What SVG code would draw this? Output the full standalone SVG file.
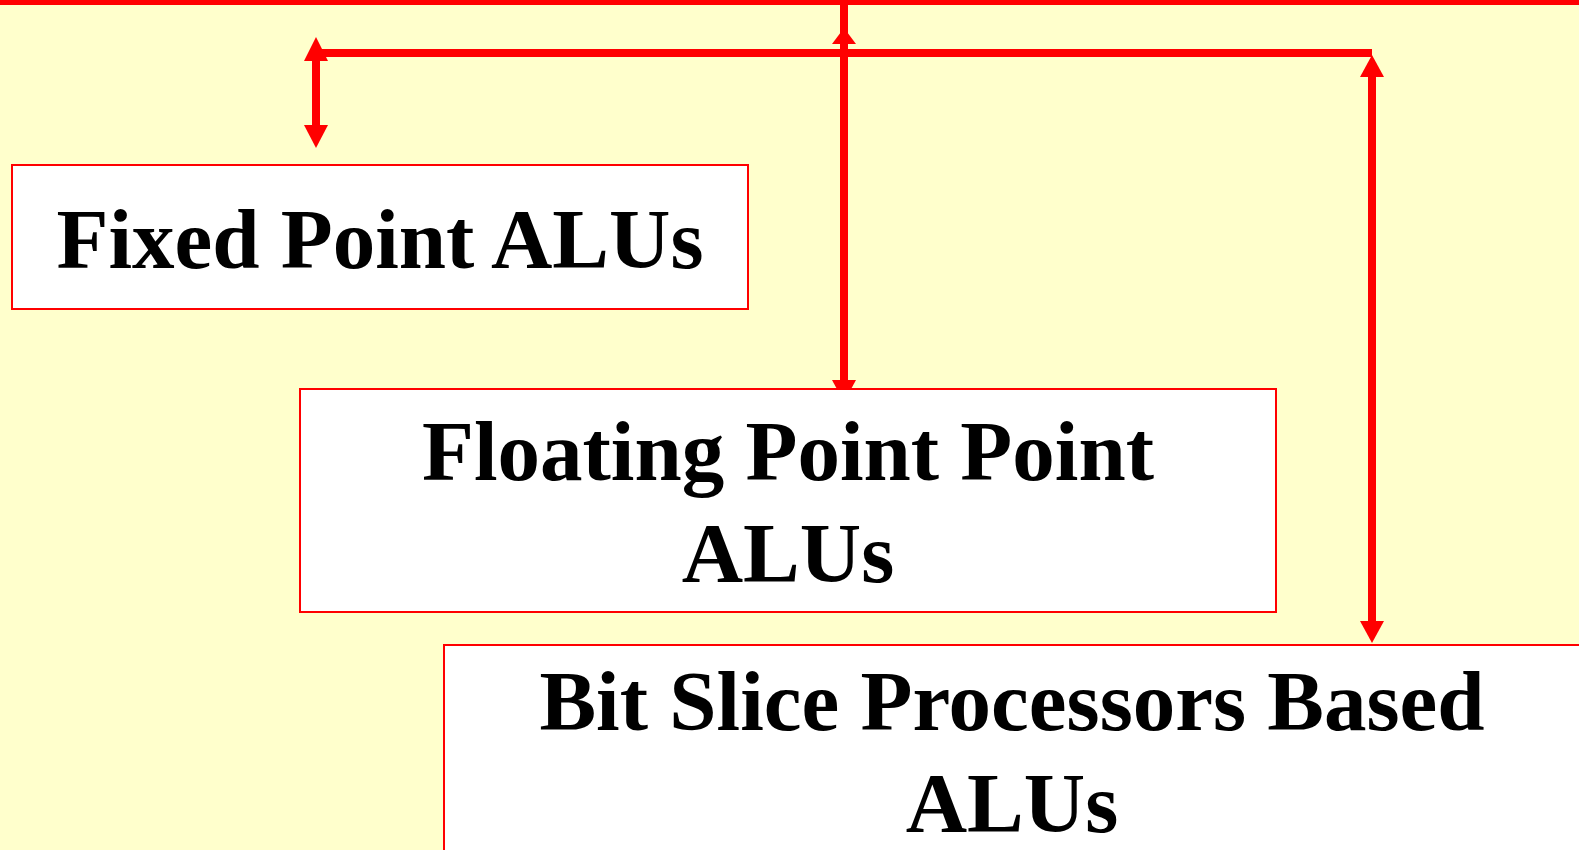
<svg xmlns="http://www.w3.org/2000/svg" width="1579" height="850" viewBox="0 0 1579 850">
<style>
.bg{fill:#FFFFCC}
.box{fill:#FFFFFF;stroke:#FF0000;stroke-width:2}
.ln{stroke:#FF0000;stroke-width:8;fill:none}
.ah{fill:#FF0000}
.t{font-family:"Liberation Serif","Times New Roman",serif;font-weight:bold;font-size:85px;fill:#000;text-anchor:middle}
</style>
<rect class="bg" x="0" y="0" width="1579" height="850"/>
<g id="connectors">
<rect x="0" y="0" width="1579" height="5" fill="#FF0000"/>
<line class="ln" x1="844" y1="0" x2="844" y2="385"/>
<polygon class="ah" points="844,28 832,44 856,44"/>
<polygon class="ah" points="832,380 856,380 844,402"/>
<line class="ln" x1="316" y1="53" x2="1372" y2="53"/>
<line class="ln" x1="316" y1="55" x2="316" y2="130"/>
<polygon class="ah" points="316,37 304,61 328,61"/>
<polygon class="ah" points="304,125 328,125 316,148"/>
<line class="ln" x1="1372" y1="70" x2="1372" y2="625"/>
<polygon class="ah" points="1372,55 1360,77 1384,77"/>
<polygon class="ah" points="1360,621 1384,621 1372,643"/>
</g>
<g id="node-fixed">
<rect class="box" x="12" y="165" width="736" height="144"/>
<text class="t" x="380" y="268">Fixed Point ALUs</text>
</g>
<g id="node-floating">
<rect class="box" x="300" y="389" width="976" height="223"/>
<text class="t" x="788" y="480">Floating Point Point</text>
<text class="t" x="788" y="582">ALUs</text>
</g>
<g id="node-bitslice">
<rect class="box" x="444" y="645" width="1145" height="215"/>
<text class="t" x="1012" y="730">Bit Slice Processors Based</text>
<text class="t" x="1012" y="832">ALUs</text>
</g>
</svg>
